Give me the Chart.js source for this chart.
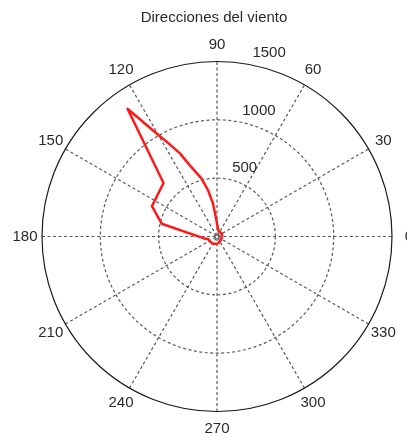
<!DOCTYPE html>
<html>
<head>
<meta charset="utf-8">
<script src="https://cdn.jsdelivr.net/npm/chart.js@4"></script>
<style>
  html, body { margin: 0; padding: 0; background: #ffffff; }
  canvas { display: block; }
</style>
</head>
<body>
<canvas id="c" width="407" height="437"></canvas>
<script>
// ---- Data ----
const titleText = "Direcciones del viento";
const angleDeg = [0, 34, 67, 79, 90, 93, 97, 101, 105, 111, 114, 117, 120, 125, 135, 155, 167, 187, 197, 215, 244, 281, 315, 360];
const radius   = [45, 50, 45, 57, 112, 156, 287, 405, 516, 655, 780, 882, 1005, 1337, 648, 615, 487, 118, 78, 74, 72, 60, 45, 45];
const ringValues = [500, 1000, 1500];
const ringLabels = ["500", "1000", "1500"];
const angleTicks = [0, 30, 60, 90, 120, 150, 180, 210, 240, 270, 300, 330];
const angleLabels = ["0", "30", "60", "90", "120", "150", "180", "210", "240", "270", "300", "330"];
const rMax = 1500;

const rad = d => d * Math.PI / 180;
const points = angleDeg.map((a, i) => ({ x: radius[i] * Math.cos(rad(a)), y: radius[i] * Math.sin(rad(a)) }));

const FONT = '15px "Liberation Sans", Arial, sans-serif';
const TXT = '#2a2a2a';

const polarGrid = {
  id: 'polarGrid',
  beforeDatasetsDraw(chart) {
    const ctx = chart.ctx, xs = chart.scales.x, ys = chart.scales.y;
    const cx = xs.getPixelForValue(0), cy = ys.getPixelForValue(0);
    const pr = v => xs.getPixelForValue(v) - cx;
    ctx.save();
    ctx.strokeStyle = '#5a5a5a';
    ctx.lineWidth = 1.2;
    ctx.setLineDash([3, 2.5]);
    for (let k = 0; k < 6; k++) {
      const a = rad(angleTicks[k]);
      const R = pr(rMax);
      ctx.beginPath();
      ctx.moveTo(cx - R * Math.cos(a), cy + R * Math.sin(a));
      ctx.lineTo(cx + R * Math.cos(a), cy - R * Math.sin(a));
      ctx.stroke();
    }
    ringValues.forEach((v, i) => {
      if (i === ringValues.length - 1) return;
      ctx.beginPath();
      ctx.arc(cx, cy, pr(v), 0, Math.PI * 2);
      ctx.stroke();
    });
    ctx.setLineDash([]);
    ctx.strokeStyle = '#1a1a1a';
    ctx.lineWidth = 1.2;
    ctx.beginPath();
    ctx.arc(cx, cy, pr(rMax), 0, Math.PI * 2);
    ctx.stroke();
    ctx.restore();
  },
  afterDraw(chart) {
    const ctx = chart.ctx, xs = chart.scales.x, ys = chart.scales.y;
    const cx = xs.getPixelForValue(0), cy = ys.getPixelForValue(0);
    const pr = v => xs.getPixelForValue(v) - cx;
    ctx.save();
    ctx.font = FONT;
    ctx.fillStyle = TXT;
    ctx.textAlign = 'center';
    ctx.textBaseline = 'middle';
    const Rl = pr(rMax) * 1.097;
    angleTicks.forEach((a, i) => {
      ctx.fillText(angleLabels[i], cx + Rl * Math.cos(rad(a)), cy - Rl * Math.sin(rad(a)));
    });
    ctx.textAlign = 'left';
    ringValues.forEach((v, i) => {
      const r = pr(v);
      ctx.fillText(ringLabels[i], cx + r * Math.cos(rad(80)) + 5, cy - r * Math.sin(rad(80)) - 11);
    });
    ctx.textAlign = 'center';
    ctx.fillText(titleText, cx - 3, 18);
    ctx.restore();
  }
};

new Chart(document.getElementById('c'), {
  type: 'scatter',
  data: {
    datasets: [{
      data: points,
      showLine: true,
      borderColor: '#ff1a1a',
      borderWidth: 2.5,
      borderJoinStyle: 'round',
      pointRadius: 0,
      fill: false,
      tension: 0
    }]
  },
  options: {
    responsive: false,
    animation: false,
    layout: { padding: { left: 42, right: 15, top: 61.5, bottom: 25.5 } },
    scales: {
      x: { type: 'linear', min: -rMax, max: rMax, display: false },
      y: { type: 'linear', min: -rMax, max: rMax, display: false }
    },
    plugins: { legend: { display: false }, tooltip: { enabled: false }, title: { display: false } }
  },
  plugins: [polarGrid]
});
</script>
</body>
</html>
